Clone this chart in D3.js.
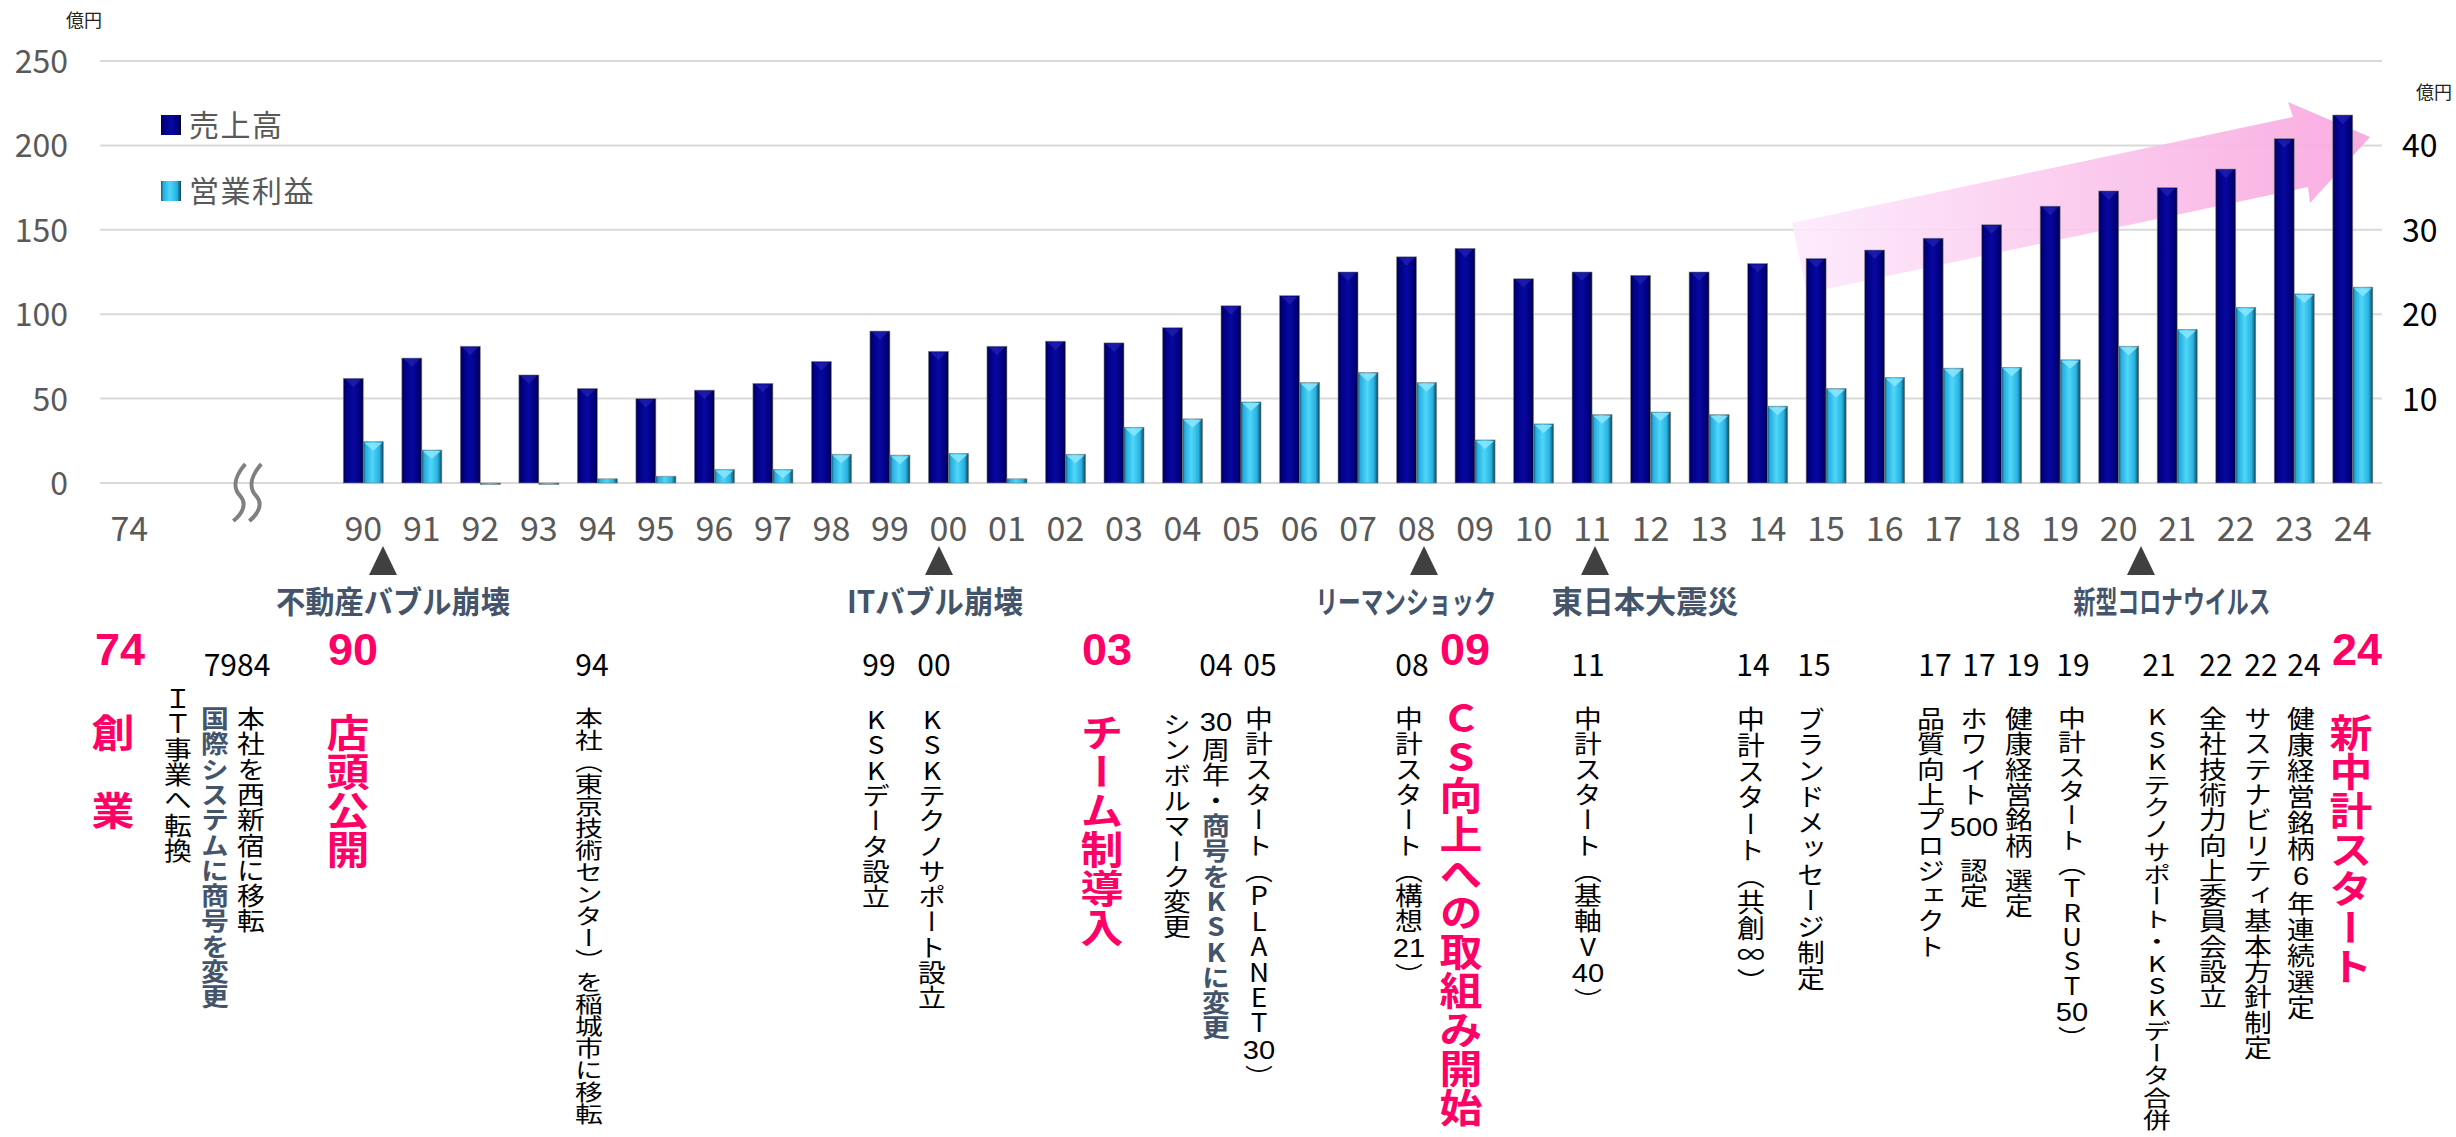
<!DOCTYPE html>
<html><head><meta charset="utf-8">
<script src="https://cdn.jsdelivr.net/npm/d3@7"></script>
<style>body{margin:0;background:#fff}svg{display:block}text{font-family:"Noto Sans CJK JP","Noto Sans",sans-serif}
text.vt{writing-mode:vertical-rl;text-orientation:upright}</style>
</head><body><svg id="c" width="2456" height="1137"></svg>
<script>
// ---------------- data ----------------
const startYear = "74";
const years = ["90","91","92","93","94","95","96","97","98","99",
               "00","01","02","03","04","05","06","07","08","09",
               "10","11","12","13","14","15","16","17","18","19",
               "20","21","22","23","24"];
const sales = [62,74,81,64,56,50,55,59,72,90,
               78,81,84,83,92,105,111,125,134,139,
               121,125,123,125,130,133,138,145,153,164,
               173,175,186,204,218];
const profit = [4.9,3.9,-0.1,-0.1,0.5,0.8,1.6,1.6,3.4,3.3,
                3.5,0.5,3.4,6.6,7.6,9.6,11.9,13.1,11.9,5.1,
                7.0,8.1,8.4,8.1,9.1,11.2,12.5,13.6,13.7,14.6,
                16.2,18.2,20.8,22.4,23.2];
const leftTicks = [0,50,100,150,200,250];
const rightTicks = [10,20,30,40];
const seriesNames = ["売上高","営業利益"];
const unitLabel = "億円";
const eventLabels = ["不動産バブル崩壊","ITバブル崩壊","リーマンショック","東日本大震災","新型コロナウイルス"];
const milestoneNums = ["74","7984","90","94","99","00","03","04","05","08","09","11","14","15","17","17","19","19","21","22","22","24","24"];
const milestoneStyle = ["p","n","p","n","n","n","p","n","n","n","p","n","n","n","n","n","n","n","n","n","n","n","p"];
const notes = [
  [["創　業","p"]],
  [["ＩＴ事業へ転換","n"]],
  [["国際システムに商号を変更","s"]],
  [["本社を西新宿に移転","n"]],
  [["店頭公開","p"]],
  [["本社（東京技術センター）を稲城市に移転","n"]],
  [["KSKデータ設立","n"]],
  [["KSKテクノサポート設立","n"]],
  [["チーム制導入","p"]],
  [["シンボルマーク変更","n"]],
  [["30周年・","n"],["商号をKSKに変更","s"]],
  [["中計スタート（PLANET30）","n"]],
  [["中計スタート（構想21）","n"]],
  [["CS向上への取組み開始","p"]],
  [["中計スタート（基軸V40）","n"]],
  [["中計スタート（共創∞）","n"]],
  [["ブランドメッセージ制定","n"]],
  [["品質向上プロジェクト","n"]],
  [["ホワイト500 認定","n"]],
  [["健康経営銘柄 選定","n"]],
  [["中計スタート（TRUST50）","n"]],
  [["KSKテクノサポート・KSKデータ合併","n"]],
  [["全社技術力向上委員会設立","n"]],
  [["サステナビリティ基本方針制定","n"]],
  [["健康経営銘柄6年連続選定","n"]],
  [["新中計スタート","p"]]
];

// ---------------- layout (positions / styles) ----------------
const PINK = "#ff0066", SLATE = "#44546a", GRAY = "#595959";
const eventLayout = [
  {tri:383, cx:393, w:234}, {tri:939, cx:935, w:176}, {tri:1424, cx:1406, w:181},
  {tri:1595, cx:1645, w:187}, {tri:2141, cx:2172, w:197}
];
const milestoneX = [120,237,353,592,879,934,1107,1216,1260,1412,1465,1588,1753,1814,1935,1979,2023,2073,2159,2216,2261,2304,2357];
const noteLayout = [
  {x:113,top:713},{x:178,top:686},{x:215,top:706},{x:251,top:706},{x:348,top:713},
  {x:589,top:707,len:418},{x:876,top:707},{x:932,top:707},{x:1102,top:713},{x:1177,top:712},
  {x:1216,top:708},{x:1259,top:706,len:384},{x:1409,top:706},{x:1461,top:698},{x:1588,top:706},
  {x:1751,top:706,len:288},{x:1811,top:706,len:285},{x:1931,top:706},{x:1974,top:706},{x:2019,top:706},
  {x:2072,top:706,len:344},{x:2157,top:706,len:425},{x:2213,top:706},{x:2258,top:706},{x:2301,top:706,len:314},
  {x:2351,top:713}
];
const STY = {
  n:{F:25.3, sx:1.1, color:"#000", weight:400},
  s:{F:25.3, sx:1.1, color:SLATE, weight:700},
  p:{F:39,   sx:1.1, color:PINK, weight:700}
};
const DIGIT_FONT = '"Liberation Sans",Arial,sans-serif';

// ---------------- scales ----------------
const svg = d3.select("#c");
const xDomain = [startYear, "·1", "·2", "·3", ...years];
const x = d3.scaleBand().domain(xDomain).range([100, 2382]).paddingInner(0.3164).paddingOuter(0.1582);
const x1 = d3.scaleBand().domain(["sales","profit"]).range([0, x.bandwidth()]);
const yL = d3.scaleLinear().domain([0,250]).range([483,61]);
const yR = d3.scaleLinear().domain([0,50]).range([483,61]);
const cx = d => x(d) + x.bandwidth()/2;

// ---------------- gradients ----------------
const defs = svg.append("defs");
function grad(id, stops, attrs){
  const g = defs.append("linearGradient").attr("id", id);
  Object.entries(attrs||{x1:0,y1:0,x2:1,y2:0}).forEach(([k,v])=>g.attr(k,v));
  stops.forEach(([o,c])=>g.append("stop").attr("offset",o).attr("stop-color",c));
}
grad("gSales", [[0,"#00004a"],[0.15,"#000085"],[0.5,"#0808a0"],[0.85,"#00007c"],[1,"#00002a"]]);
grad("gProfit", [[0,"#16596c"],[0.12,"#26ace0"],[0.45,"#4fd7f8"],[0.8,"#28b0e2"],[1,"#0d4456"]]);
grad("gArrow", [[0,"#fdeafc"],[1,"#f8a5de"]], {gradientUnits:"userSpaceOnUse", x1:1792, y1:0, x2:2370, y2:0});

// ---------------- gridlines ----------------
svg.append("g").selectAll("line").data(leftTicks).join("line")
  .attr("x1", 100).attr("x2", 2382)
  .attr("y1", d=>yL(d)).attr("y2", d=>yL(d))
  .attr("stroke", "#d9d9d9").attr("stroke-width", 2);

// ---------------- trend arrow ----------------
svg.append("polygon")
  .attr("points", [[1792,223],[2293,117],[2288,102],[2370,137],[2310,203],[2308,187],[1807,293]].map(p=>p.join(",")).join(" "))
  .attr("fill", "url(#gArrow)").attr("opacity", 0.92);

// ---------------- bars ----------------
const rows = years.map((y,i)=>({y, sales:sales[i], profit:profit[i]}));
const bw = x1.bandwidth();
const gBars = svg.append("g");
gBars.selectAll("rect.s").data(rows).join("rect").attr("class","s")
  .attr("x", d=>x(d.y)+x1("sales")).attr("width", bw)
  .attr("y", d=>yL(Math.max(0,d.sales))).attr("height", d=>Math.abs(yL(d.sales)-yL(0)))
  .attr("fill","url(#gSales)").attr("stroke","#8a8a8a").attr("stroke-width",0.8).attr("stroke-opacity",0.7);
gBars.selectAll("path.st").data(rows).join("path").attr("class","st")
  .attr("d", d=>{const l=x(d.y)+x1("sales"), t=yL(d.sales); return `M${l+2},${t+1}L${l+bw-2},${t+1}L${l+bw/2},${t+9}Z`;})
  .attr("fill","#2a2ab8").attr("opacity",0.55);
gBars.selectAll("rect.p").data(rows).join("rect").attr("class","p")
  .attr("x", d=>x(d.y)+x1("profit")).attr("width", bw)
  .attr("y", d=>Math.min(yR(d.profit), yR(0))).attr("height", d=>Math.max(1.5, Math.abs(yR(d.profit)-yR(0))))
  .attr("fill","url(#gProfit)").attr("stroke","#7a7a7a").attr("stroke-width",0.8).attr("stroke-opacity",0.7);
gBars.selectAll("path.pt").data(rows.filter(d=>d.profit>1.2)).join("path").attr("class","pt")
  .attr("d", d=>{const l=x(d.y)+x1("profit"), t=yR(d.profit); return `M${l+1},${t+1}L${l+bw-1},${t+1}L${l+bw/2},${t+9}Z`;})
  .attr("fill","#8be8ff").attr("opacity",0.85);

// ---------------- axes ----------------
const axL = svg.append("g").attr("transform","translate(100,0)")
  .call(d3.axisLeft(yL).tickValues(leftTicks).tickSize(0).tickPadding(32));
axL.select(".domain").remove();
axL.selectAll("text").attr("font-size",32).attr("fill",GRAY).attr("dy","0.36em")
  .style("font-family",'"Noto Sans CJK JP",sans-serif');

const axR = svg.append("g").attr("transform","translate(2382,0)")
  .call(d3.axisRight(yR).tickValues(rightTicks).tickSize(0).tickPadding(20));
axR.select(".domain").remove();
axR.selectAll("text").attr("font-size",32).attr("fill","#000").attr("dy","0.36em")
  .style("font-family",'"Noto Sans CJK JP",sans-serif');

const axB = svg.append("g").attr("transform","translate(0,483)")
  .call(d3.axisBottom(x).tickSize(0).tickFormat(d=>d.startsWith("·")?"":d));
axB.select(".domain").remove();
axB.selectAll("text").attr("font-size",34).attr("fill",GRAY).attr("y",58).attr("dy",0)
  .style("font-family",'"Noto Sans CJK JP",sans-serif');

// units
svg.append("text").attr("x",84).attr("y",27).attr("text-anchor","middle").attr("font-size",18).attr("fill","#222").text(unitLabel);
svg.append("text").attr("x",2434).attr("y",99).attr("text-anchor","middle").attr("font-size",18).attr("fill","#222").text(unitLabel);

// axis break mark
const bx = cx("·2");
svg.append("g").selectAll("path").data([-8,8]).join("path")
  .attr("d", o=>{const a=bx+o; return `M${a+7},464C${a-5},478 ${a-5},489 ${a+2},496C${a+9},504 ${a+4},514 ${a-5},521`;})
  .attr("fill","none").attr("stroke","#808080").attr("stroke-width",4);

// ---------------- legend ----------------
const lg = svg.append("g");
["url(#gSales)","url(#gProfit)"].forEach((f,i)=>{
  const yy = 115 + i*66;
  lg.append("rect").attr("x",161).attr("y",yy).attr("width",20).attr("height",20).attr("fill",f);
  lg.append("text").attr("x",189).attr("y",yy+10).attr("dy","0.36em").attr("font-size",30)
    .attr("letter-spacing",1.5).attr("fill",GRAY).text(seriesNames[i]);
});

// ---------------- events ----------------
const ge = svg.append("g");
eventLabels.forEach((t,i)=>{
  const L = eventLayout[i];
  ge.append("path").attr("d",`M${L.tri-14},575L${L.tri+14},575L${L.tri},546Z`).attr("fill","#404040");
  ge.append("text").attr("x",L.cx).attr("y",613).attr("text-anchor","middle")
    .attr("font-size",31).attr("font-weight",700).attr("fill",SLATE)
    .attr("textLength",L.w).attr("lengthAdjust","spacingAndGlyphs").text(t);
});

// ---------------- milestone numbers ----------------
milestoneNums.forEach((t,i)=>{
  const p = milestoneStyle[i]==="p";
  svg.append("text").attr("x",milestoneX[i]).attr("y",p?665:676).attr("text-anchor","middle")
    .style("font-family", p ? DIGIT_FONT : '"Noto Sans CJK JP",sans-serif')
    .attr("font-size",p?45:30).attr("font-weight",p?700:400).attr("fill",p?PINK:"#000").text(t);
});

// ---------------- vertical notes (one glyph per cell) ----------------
function cells(str){
  const arr=[...str], out=[];
  for(let i=0;i<arr.length;){
    const c=arr[i];
    if(/[0-9]/.test(c)){ let j=i; while(j<arr.length&&/[0-9]/.test(arr[j]))j++;
      const t=arr.slice(i,j).join(""); out.push({type:"d",t,w:t.length>2?1.6:1.15}); i=j; continue; }
    if(c===" "){ out.push({type:"gap",w:0.4}); i++; continue; }
    if(c==="　"){ out.push({type:"gap",w:1}); i++; continue; }
    out.push({type:"v",t:c,w:1}); i++;
  }
  return out;
}
notes.forEach((segs,i)=>{
  const L = noteLayout[i];
  const items=[]; segs.forEach(([s,st])=>cells(s).forEach(r=>items.push({...r,st})));
  const main = STY[segs[0][1]];
  const sumW = d3.sum(items,r=>r.w);
  const step = L.len ? L.len/sumW : main.F;
  const g = svg.append("g").attr("class","note");
  let pos=0;
  items.forEach(r=>{
    const st = STY[r.st];
    const y0 = L.top + pos*step;
    pos += r.w;
    if(r.type==="gap") return;
    if(r.type==="d"){
      g.append("text").attr("transform",`translate(${L.x},${y0 + r.w*step/2}) scale(1.12,1)`)
        .attr("text-anchor","middle").attr("dominant-baseline","central")
        .style("font-family",DIGIT_FONT).attr("font-size",26).attr("font-weight",st.weight)
        .attr("fill",st.color).text(r.t);
    } else {
      g.append("text").attr("class","vt")
        .attr("transform",`translate(${L.x},${y0+0.1}) scale(${st.sx},${step*0.985/st.F})`)
        .attr("x",0).attr("y",0).attr("writing-mode","vertical-rl")
        .attr("font-size",st.F).attr("font-weight",st.weight).attr("fill",st.color).text(r.t);
    }
  });
});
</script></body></html>
